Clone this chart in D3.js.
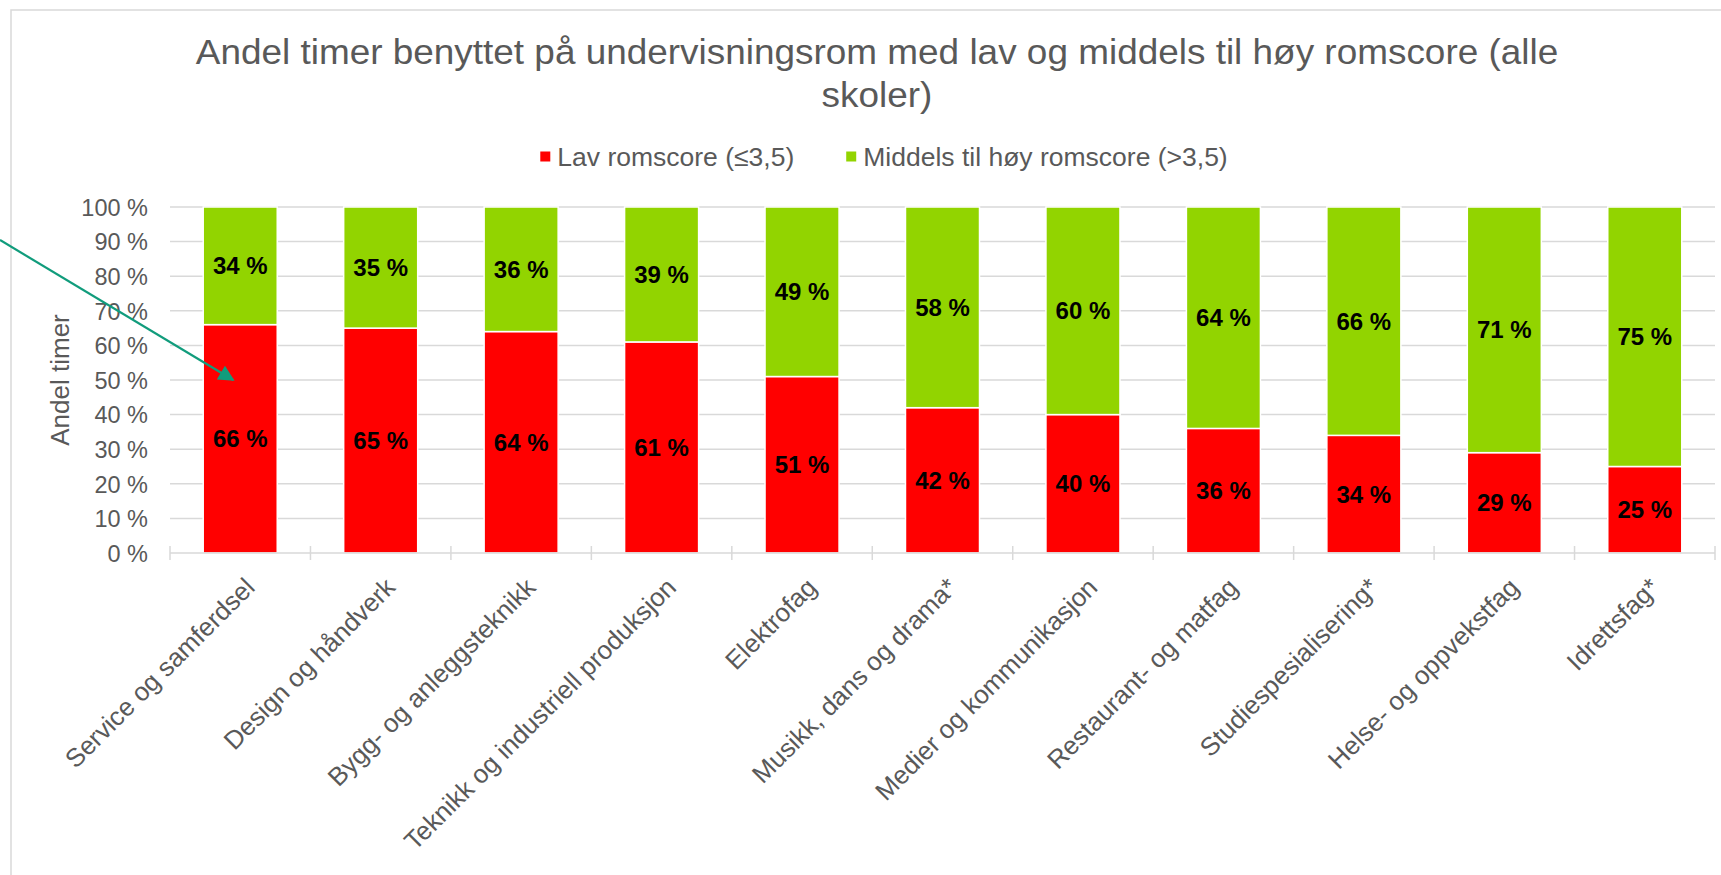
<!DOCTYPE html>
<html>
<head>
<meta charset="utf-8">
<script src="https://cdn.jsdelivr.net/npm/d3@7"></script>
<style>
  body { margin: 0; background: #fff; }
  text { font-family: Arial, "Liberation Sans", sans-serif; }
</style>
</head>
<body>
<div id="container"></div>
<script>
let w = 1721;
let h = 875;

// data
let categories = [
  "Service og samferdsel",
  "Design og håndverk",
  "Bygg- og anleggsteknikk",
  "Teknikk og industriell produksjon",
  "Elektrofag",
  "Musikk, dans og drama*",
  "Medier og kommunikasjon",
  "Restaurant- og matfag",
  "Studiespesialisering*",
  "Helse- og oppvekstfag",
  "Idrettsfag*"
];
let lavValues = [66, 65, 64, 61, 51, 42, 40, 36, 34, 29, 25];
let hoyValues = [34, 35, 36, 39, 49, 58, 60, 64, 66, 71, 75];
let seriesNames = ["Lav romscore (≤3,5)", "Middels til høy romscore (>3,5)"];
let seriesColors = ["#ff0000", "#92d400"];
let yTicks = [0, 10, 20, 30, 40, 50, 60, 70, 80, 90, 100];

let gray = "#595959";
let gridColor = "#d9d9d9";

let viz = d3.select("#container")
  .append("svg")
    .attr("width", w)
    .attr("height", h)
    .style("background-color", "white");

// chart frame
viz.append("rect")
  .attr("x", 11).attr("y", 10)
  .attr("width", 1800).attr("height", 1000)
  .attr("fill", "none")
  .attr("stroke", gridColor)
  .attr("stroke-width", 1.5);

// title (slightly wide lettering like the original)
let title = viz.append("text")
  .attr("transform", "translate(877,0) scale(1.055,1)")
  .attr("text-anchor", "middle")
  .attr("fill", gray)
  .style("font-size", "35px");
title.append("tspan").attr("x", 0).attr("y", 64)
  .text("Andel timer benyttet på undervisningsrom med lav og middels til høy romscore (alle");
title.append("tspan").attr("x", 0).attr("y", 107).text("skoler)");

// scales
let plotLeft = 170, plotRight = 1715, plotTop = 207, plotBottom = 553;
let xScale = d3.scaleBand().domain(categories).range([plotLeft, plotRight])
  .paddingInner(0.473).paddingOuter(0.2365);
let yScale = d3.scaleLinear().domain([0, 100]).range([plotBottom, plotTop]);

// gridlines
viz.append("g").attr("class", "grid")
  .selectAll("line").data(yTicks.slice(1)).enter()
  .append("line")
    .attr("x1", plotLeft).attr("x2", plotRight)
    .attr("y1", d => yScale(d)).attr("y2", d => yScale(d))
    .attr("stroke", gridColor).attr("stroke-width", 1.5);

// y axis labels
let yAxis = d3.axisLeft(yScale).tickValues(yTicks)
  .tickFormat(d => d + " %").tickSize(0).tickPadding(22);
let yAxisGroup = viz.append("g").attr("class", "yaxis")
  .attr("transform", "translate(" + plotLeft + ",0)")
  .call(yAxis);
yAxisGroup.select(".domain").remove();
yAxisGroup.selectAll("text")
  .attr("fill", gray).style("font-size", "23.5px").attr("dy", "0.35em");

// y axis title
viz.append("text")
  .attr("transform", "translate(69," + ((plotTop + plotBottom) / 2) + ") rotate(-90)")
  .attr("text-anchor", "middle")
  .attr("fill", gray)
  .style("font-size", "26px")
  .text("Andel timer");

// stacked bars
let stackData = categories.map(function(c, i){
  return { cat: c, lav: lavValues[i], hoy: hoyValues[i] };
});
let stack = d3.stack().keys(["lav", "hoy"]);
let layers = stack(stackData);

let barGroups = viz.append("g").attr("class", "bars")
  .selectAll("g").data(layers).enter()
  .append("g")
    .attr("fill", (d, i) => seriesColors[i]);

barGroups.selectAll("rect").data(d => d).enter()
  .append("rect")
    .attr("x", d => xScale(d.data.cat))
    .attr("width", xScale.bandwidth())
    .attr("y", d => yScale(d[1]))
    .attr("height", d => yScale(d[0]) - yScale(d[1]))
    .attr("stroke", "white")
    .attr("stroke-width", 1.5);

barGroups.selectAll("text").data(d => d).enter()
  .append("text")
    .attr("x", d => xScale(d.data.cat) + xScale.bandwidth() / 2)
    .attr("y", d => yScale((d[0] + d[1]) / 2))
    .attr("dy", "0.35em")
    .attr("text-anchor", "middle")
    .attr("fill", "black")
    .style("font-size", "24px")
    .style("font-weight", "bold")
    .text(d => (d[1] - d[0]) + " %");

// x axis line with cross ticks at band boundaries
viz.append("line")
  .attr("x1", plotLeft).attr("x2", plotRight)
  .attr("y1", plotBottom).attr("y2", plotBottom)
  .attr("stroke", gridColor).attr("stroke-width", 1.5);
let boundaries = categories.map(c => xScale(c) - xScale.step() * xScale.paddingOuter());
boundaries.push(plotRight);
viz.append("g").selectAll("line").data(boundaries).enter()
  .append("line")
    .attr("x1", d => d).attr("x2", d => d)
    .attr("y1", plotBottom - 7).attr("y2", plotBottom + 7)
    .attr("stroke", gridColor).attr("stroke-width", 1.5);

// x labels, rotated
viz.append("g").attr("class", "xlabels")
  .selectAll("text").data(categories).enter()
  .append("text")
    .attr("transform", d => "translate(" + (xScale(d) + xScale.bandwidth() / 2 + 16) + "," + (plotBottom + 36) + ") rotate(-45)")
    .attr("text-anchor", "end")
    .attr("fill", gray)
    .style("font-size", "25.8px")
    .text(d => d);

// legend
let legend = viz.append("g").attr("class", "legend");
let items = legend.selectAll("g").data(seriesNames).enter().append("g");
items.append("rect")
  .attr("width", 10).attr("height", 10)
  .attr("y", -5.5)
  .attr("fill", (d, i) => seriesColors[i]);
items.append("text")
  .attr("x", 17)
  .attr("dy", "0.35em")
  .attr("fill", gray)
  .style("font-size", "26.5px")
  .text(d => d);
let offsets = [];
let xpos = 0;
let gap = 52;
items.each(function(){
  offsets.push(xpos);
  xpos += 17 + d3.select(this).select("text").node().getComputedTextLength() + gap;
});
let legendWidth = xpos - gap;
items.attr("transform", (d, i) => "translate(" + offsets[i] + ",0)");
legend.attr("transform", "translate(" + (884 - legendWidth / 2) + ",157)");

// annotation arrow
let defs = viz.append("defs");
defs.append("marker")
  .attr("id", "arrowhead")
  .attr("viewBox", "0 0 10 10")
  .attr("refX", 9).attr("refY", 5)
  .attr("markerWidth", 18).attr("markerHeight", 16)
  .attr("markerUnits", "userSpaceOnUse")
  .attr("orient", "auto")
  .append("path").attr("d", "M0,0 L10,5 L0,10 Z").attr("fill", "#119c7c");

viz.append("line")
  .attr("x1", 0).attr("y1", 240)
  .attr("x2", xScale(categories[0]) + 30).attr("y2", yScale(50))
  .attr("stroke", "#119c7c")
  .attr("stroke-width", 2.2)
  .attr("marker-end", "url(#arrowhead)");
</script>
</body>
</html>
